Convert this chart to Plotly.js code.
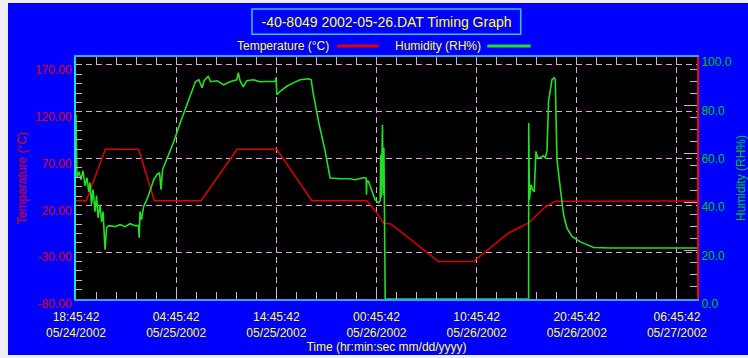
<!DOCTYPE html>
<html>
<head>
<meta charset="utf-8">
<script src="https://cdn.plot.ly/plotly-3.0.1.min.js"></script>
<style>
html,body{margin:0;padding:0;background:#eeeef6;width:748px;height:358px;overflow:hidden;}
#chart{position:absolute;left:8px;top:3px;width:740px;height:352px;}
</style>
</head>
<body>
<div id="chart"></div>
<script>
// ---- data (hours since 05/24/2002 18:45:42) ----
const startTime = '2002-05-24 18:45:42';
const tempHours = [0, 1.03, 2.93, 6.26, 7.82, 12.49, 16.08, 20.05, 23.55, 29.04, 30.04, 30.7, 31.47, 36.19, 39.69, 43.19, 45.19, 46.85, 47.85, 62.0];
const tempValues = [25, 25, 80, 80, 25, 25, 80, 80, 25, 25, 12, 1, 0, -40, -40, -9.5, 1.2, 18.2, 24.5, 24.8];

const humHours = [0, 0.05, 0.1, 0.3, 0.5, 0.7, 0.9, 1.1, 1.27, 1.4, 1.55, 1.7, 1.9, 2.05, 2.2, 2.4, 2.55, 2.7, 2.9, 3.05,
  3.3, 3.9, 4.4, 4.9, 5.4, 5.9, 6.24, 6.31, 6.39, 6.54, 6.74, 6.94, 7.26, 7.76, 8.09, 8.34, 8.49, 8.64, 9.26, 9.76,
  10.42, 11.09, 11.92, 12.26, 12.59, 12.79, 13.19, 13.44, 14.09, 14.76, 15.38, 16.05, 16.21, 16.38, 16.71, 17.05, 17.71, 18.38, 19.18, 19.88,
  19.98, 20.05, 20.38, 21.05, 21.71, 22.38, 23.21, 23.48, 23.65, 24.21, 24.88, 25.37, 26.37, 27.37, 27.87, 28.67, 28.97, 29.0, 29.04, 29.2,
  29.54, 29.87, 30.2, 30.37, 30.42, 30.47, 30.6, 30.67, 30.74, 30.87, 45.19, 45.2, 45.27, 45.42, 45.58, 45.75, 45.92, 46.1, 46.35, 46.65,
  46.85, 47.02, 47.18, 47.52, 47.75, 47.85, 48.02, 48.35, 48.68, 49.02, 49.52, 50.35, 51.68, 53.35, 62.0];
const humValues = [76.2, 61.7, 50.1, 52.6, 49.3, 53.0, 46.8, 50.1, 44.3, 48.1, 39.0, 45.2, 36.1, 42.7, 33.6, 39.0, 31.9, 36.1, 20.4, 29.5,
  30.3, 29.9, 30.7, 29.9, 31.1, 30.3, 30.3, 25.3, 36.1, 32.8, 38.1, 39.8, 43.1, 49.3, 51.4, 52.2, 45.2, 53.4, 59.6, 65.0,
  72.9, 80.3, 89.8, 90.6, 87.3, 90.2, 92.0, 89.8, 90.2, 88.5, 89.8, 90.6, 93.5, 90.2, 87.7, 90.2, 90.6, 89.8, 90.0, 90.0,
  91.4, 84.4, 85.8, 87.9, 89.3, 90.6, 91.0, 90.6, 85.8, 73.4, 61.0, 50.0, 49.7, 49.7, 49.3, 50.1, 49.9, 43.1, 48.9, 48.6,
  44.5, 41.0, 39.7, 40.6, 59.6, 41.9, 72.0, 43.1, 62.5, 0, 0, 72.7, 41.0, 47.2, 45.2, 44.3, 61.0, 58.4, 58.3, 59.2,
  58.4, 61.0, 81.7, 90.6, 91.4, 90.6, 57.6, 45.9, 34.8, 29.3, 25.9, 23.6, 21.3, 21.1, 21.1];

const xTickHours = [0, 10, 20, 30, 40, 50, 60];
const xTickLabels = ['18:45:42<br>05/24/2002', '04:45:42<br>05/25/2002', '14:45:42<br>05/25/2002', '00:45:42<br>05/26/2002',
  '10:45:42<br>05/26/2002', '20:45:42<br>05/26/2002', '06:45:42<br>05/27/2002'];
const xRangeHours = [0, 62];
const tempTicks = [-80, -30, 20, 70, 120, 170];
const tempTickLabels = ['-80.00', '-30.00', '20.00', '70.00', '120.00', '170.00'];
const tempRange = [-80, 178.5];
const humRange = [0, 100];

// ---- helpers ----
const base = Date.UTC(2002, 4, 24, 18, 45, 42);
function toDate(h) {
  return new Date(base + h * 3600000).toISOString().replace('T', ' ').slice(0, 19);
}

const YEL = '#ffff33';
const PINK = '#e2a4e2';
const FONT = 'Liberation Sans, Arial, sans-serif';

const traces = [
  {x: tempHours.map(toDate), y: tempValues, type: 'scatter', mode: 'lines', name: 'Temperature (°C)',
   line: {color: '#e00000', width: 1.5}, yaxis: 'y', showlegend: false},
  {x: humHours.map(toDate), y: humValues, type: 'scatter', mode: 'lines', name: 'Humidity (RH%)',
   line: {color: '#22e022', width: 1.6}, yaxis: 'y2', showlegend: false}
];

const layout = {
  width: 740, height: 352,
  margin: {l: 68, r: 51, t: 54, b: 56},
  paper_bgcolor: '#0000fe',
  plot_bgcolor: '#000000',
  font: {family: FONT, size: 12, color: YEL},
  title: {text: '-40-8049 2002-05-26.DAT Timing Graph', font: {family: FONT, size: 14, color: YEL},
          x: 0.5115, xref: 'container', xanchor: 'center', y: 0.947, yref: 'container', yanchor: 'middle'},
  xaxis: {
    type: 'date', range: xRangeHours.map(toDate),
    tickmode: 'array', tickvals: xTickHours.map(toDate), ticktext: xTickLabels,
    tickfont: {family: FONT, size: 12, color: YEL},
    ticks: 'inside', ticklen: 7, tickcolor: PINK, tickwidth: 1,
    minor: {dtick: 7200000, tick0: startTime, ticks: 'inside', ticklen: 7, tickcolor: PINK, showgrid: false},
    showgrid: true, gridcolor: PINK, griddash: '6px,4px', gridwidth: 1,
    showline: true, linecolor: '#3aa0ff', linewidth: 2, mirror: 'allticks',
    zeroline: false, ticklabelstandoff: 6,
    title: {text: 'Time (hr:min:sec mm/dd/yyyy)', font: {family: FONT, size: 12, color: YEL}, standoff: 3}
  },
  yaxis: {
    range: tempRange, tickmode: 'array', tickvals: tempTicks, ticktext: tempTickLabels,
    tickfont: {family: FONT, size: 12, color: '#e00000'},
    ticks: 'inside', ticklen: 6, tickcolor: PINK,
    minor: {dtick: 10, tick0: -80, ticks: 'inside', ticklen: 6, tickcolor: PINK, showgrid: false},
    showgrid: true, gridcolor: PINK, griddash: '6px,4px', gridwidth: 1,
    showline: true, linecolor: '#20d8f0', linewidth: 2,
    zeroline: false, ticklabelshift: 5,
    title: {text: 'Temperature (°C)', font: {family: FONT, size: 12, color: '#e00000'}, standoff: 6}
  },
  yaxis2: {
    range: humRange, overlaying: 'y', side: 'right',
    tick0: 0, dtick: 20, tickformat: '.1f',
    tickfont: {family: FONT, size: 12, color: '#00c800'},
    ticks: 'inside', ticklen: 13, tickcolor: PINK,
    minor: {dtick: 5, ticks: 'inside', ticklen: 7, tickcolor: PINK, showgrid: false},
    showgrid: false, showline: true, linecolor: '#ff0000', linewidth: 2,
    zeroline: false, ticklabelshift: 5,
    title: {text: 'Humidity (RH%)', font: {family: FONT, size: 12, color: '#00c800'}, standoff: 11}
  },
  shapes: [
    {type: 'rect', xref: 'paper', yref: 'paper', x0: 0.2834, x1: 0.7161, y0: 1.0938, y1: 1.198,
     line: {color: '#38c4ff', width: 1.5}, fillcolor: 'rgba(0,0,0,0)'},
    {type: 'line', xref: 'paper', yref: 'paper', x0: 0.4203, x1: 0.4879, y0: 1.0455, y1: 1.0455,
     line: {color: '#e00000', width: 3}},
    {type: 'line', xref: 'paper', yref: 'paper', x0: 0.6623, x1: 0.7322, y0: 1.0455, y1: 1.0455,
     line: {color: '#22e022', width: 3}}
  ],
  annotations: [
    {text: 'Temperature (°C)', xref: 'paper', yref: 'paper', x: 0.256, y: 1.0455, xanchor: 'left', yanchor: 'middle',
     showarrow: false, font: {family: FONT, size: 12, color: YEL}},
    {text: 'Humidity (RH%)', xref: 'paper', yref: 'paper', x: 0.5105, y: 1.0455, xanchor: 'left', yanchor: 'middle',
     showarrow: false, font: {family: FONT, size: 12, color: YEL}}
  ]
};

Plotly.newPlot('chart', traces, layout, {displayModeBar: false, staticPlot: true});
</script>
</body>
</html>
